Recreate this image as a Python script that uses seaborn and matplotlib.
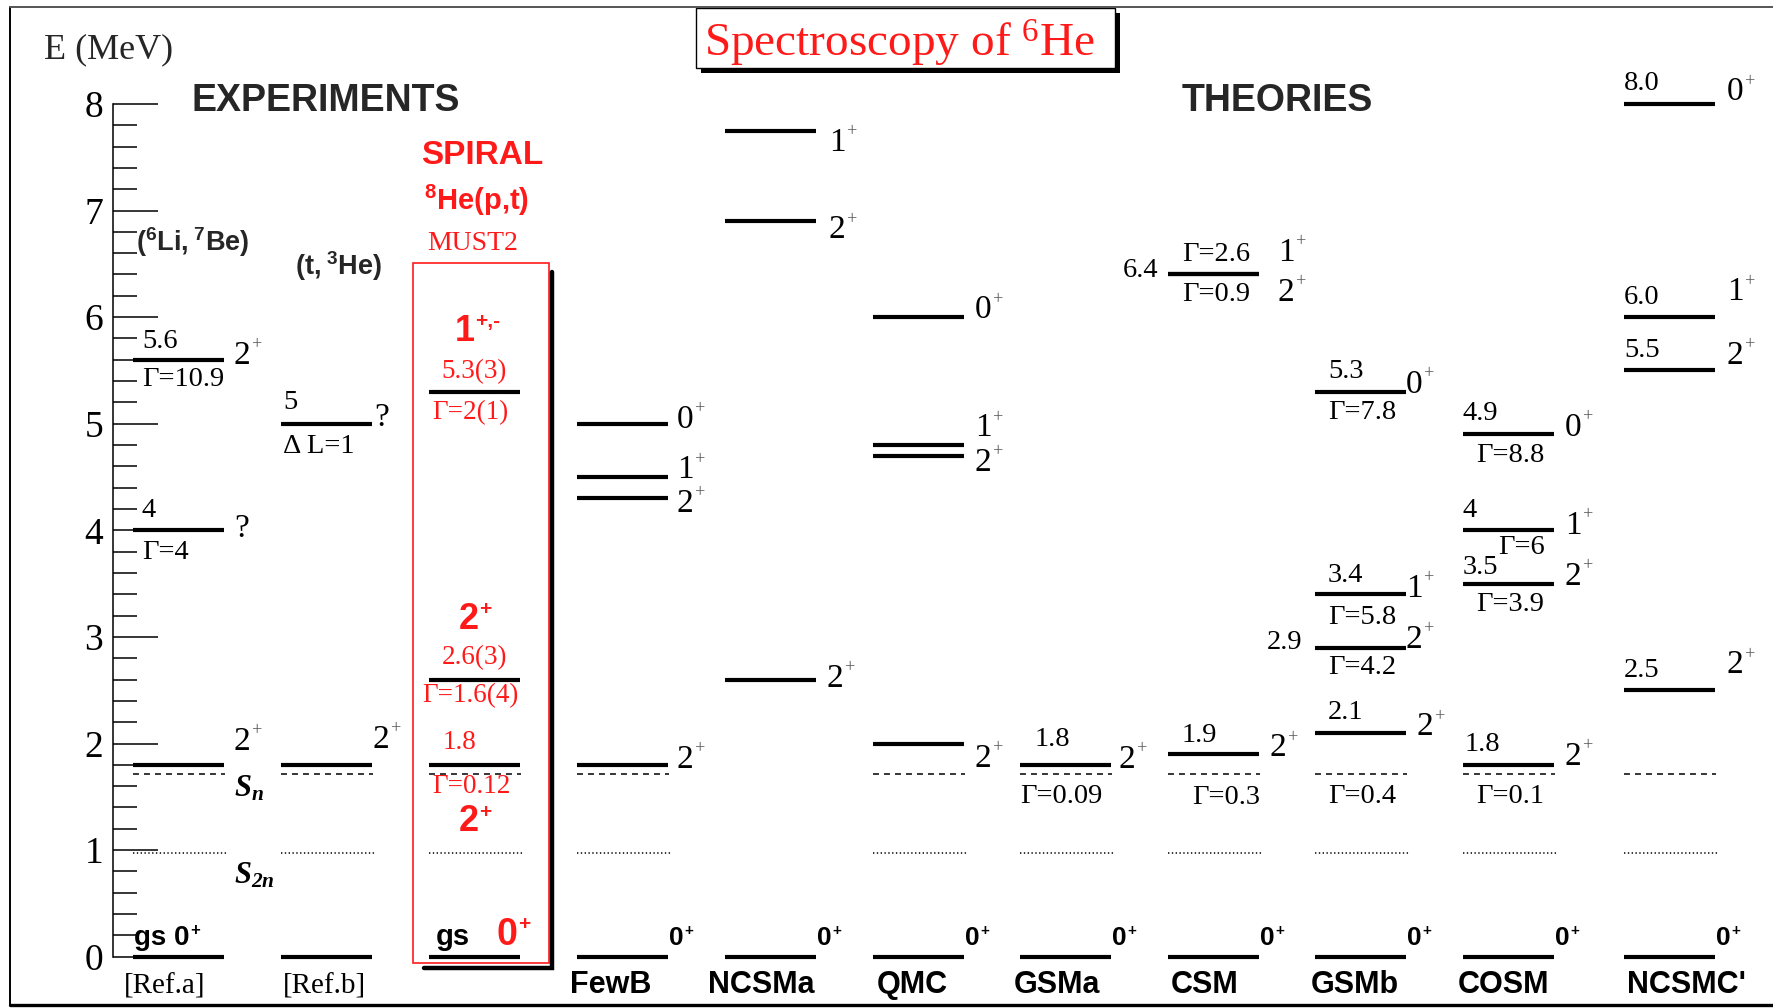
import matplotlib
matplotlib.use("Agg")
import matplotlib.pyplot as plt
from matplotlib.patches import Rectangle
from matplotlib.lines import Line2D
from matplotlib.ticker import FixedLocator
import pandas as pd
import seaborn as sns

# ---------------- level data (MeV) ----------------
col_names = ["[Ref.a]", "[Ref.b]", "", "FewB", "NCSMa", "QMC", "GSMa",
             "CSM", "GSMb", "COSM", "NCSMC'"]

ref_a_E = [0.0, 1.8, 4.0, 5.6]
ref_a_J = ["0", "2", "?", "2"]
ref_a_G = [None, None, "4", "10.9"]

ref_b_E = [0.0, 1.8, 5.0]
ref_b_J = ["0", "2", "?"]

spiral_E = [0.0, 1.8, 2.6, 5.3]
spiral_unc = [None, None, "3", "3"]
spiral_G = [None, "0.12", "1.6(4)", "2(1)"]
spiral_J = ["0", "2", "2", "1"]
spiral_P = ["+", "+", "+", "+,-"]

fewb_E = [0.0, 1.8, 4.3, 4.5, 5.0]
fewb_J = ["0", "2", "2", "1", "0"]

ncsma_E = [0.0, 2.6, 6.9, 7.75]
ncsma_J = ["0", "2", "2", "1"]

qmc_E = [0.0, 2.0, 4.7, 4.8, 6.0]
qmc_J = ["0", "2", "2", "1", "0"]

gsma_E = [0.0, 1.8]
gsma_J = ["0", "2"]
gsma_G = [None, "0.09"]

csm_E = [0.0, 1.9, 6.4, 6.4]
csm_J = ["0", "2", "2", "1"]
csm_G = [None, "0.3", "0.9", "2.6"]

gsmb_E = [0.0, 2.1, 2.9, 3.4, 5.3]
gsmb_J = ["0", "2", "2", "1", "0"]
gsmb_G = [None, "0.4", "4.2", "5.8", "7.8"]

cosm_E = [0.0, 1.8, 3.5, 4.0, 4.9]
cosm_J = ["0", "2", "2", "1", "0"]
cosm_G = [None, "0.1", "3.9", "6", "8.8"]

ncsmc_E = [0.0, 2.5, 5.5, 6.0, 8.0]
ncsmc_J = ["0", "2", "2", "1", "0"]

S_n = 1.71     # one-neutron threshold
S_2n = 0.975   # two-neutron threshold

all_E = [ref_a_E, ref_b_E, spiral_E, fewb_E, ncsma_E, qmc_E, gsma_E,
         csm_E, gsmb_E, cosm_E, ncsmc_E]

# ---------------- layout ----------------
W, H = 1774, 1008
Y0, PPM = 956.7, 106.6                # pixel row of E=0, pixels per MeV
col_left = [133, 281, 429, 577, 725, 873, 1020, 1168, 1315, 1463, 1624]
LW = 91                                # level length
name_x = [165, 324, None, 611, 761, 912, 1057, 1205, 1355, 1504, 1686]
threshold_cols = [0, 1, 2, 3, 5, 6, 7, 8, 9, 10]

sns.set_theme(style="white")
SERIF = ["Liberation Serif", "DejaVu Serif"]
SANS = ["Liberation Sans", "DejaVu Sans"]
plt.rcParams["font.family"] = SERIF
plt.rcParams["mathtext.default"] = "regular"

RED = "#ff1a1a"
PX = 0.72  # points per pixel at dpi 100
VAL = 20.5  # size of energy / width annotations
JPS = 24    # size of spin-parity labels

fig = plt.figure(figsize=(W / 100, H / 100), dpi=100)
fig.patch.set_facecolor("white")
ax = fig.add_axes([0, 0, 1, 1])
ax.set_facecolor("none")

# energy levels drawn as short horizontal segments
rows = []
for ci, Es in enumerate(all_E):
    for li, E in enumerate(Es):
        u = f"{ci}-{li}"
        rows.append({"unit": u, "x": col_left[ci], "E": E})
        rows.append({"unit": u, "x": col_left[ci] + LW, "E": E})
levels = pd.DataFrame(rows)
sns.lineplot(data=levels, x="x", y="E", units="unit", estimator=None,
             sort=False, color="black", linewidth=3.0, legend=False, ax=ax,
             solid_capstyle="butt")

# thresholds
for ci in threshold_cols:
    L = col_left[ci]
    ax.hlines(S_n, L, L + LW + 1, color="black", lw=1.1,
              linestyles=(0, (3.9, 3.3)))
    ax.hlines(S_2n, L, L + LW + 4, color="black", lw=1.1,
              linestyles=(0, (0.9, 1.6)))

ax.set_xlim(0, W)
ax.set_ylim((Y0 - H) / PPM, Y0 / PPM)
ax.set_xlabel("")
ax.set_ylabel("")
ax.set_xticks([])

# energy axis
for s in ["top", "right", "bottom"]:
    ax.spines[s].set_visible(False)
ax.spines["left"].set_position(("data", 113))
ax.spines["left"].set_bounds(0, 8)
ax.spines["left"].set_color("black")
ax.spines["left"].set_linewidth(1.1)
ax.yaxis.set_major_locator(FixedLocator(list(range(9))))
ax.yaxis.set_minor_locator(FixedLocator([i * 0.2 for i in range(41) if i % 5]))
ax.tick_params(axis="y", which="major", left=True, direction="in",
               length=45 * PX, width=1.1, color="black", labelcolor="black",
               labelsize=27, pad=7)
ax.tick_params(axis="y", which="minor", left=True, direction="in",
               length=24 * PX, width=1.1, color="black")
for t in ax.get_yticklabels():
    t.set_fontfamily(SERIF)


def put(x, E, s, dx=0, dy=0, ha="left", va="center", size=VAL,
        color="black", family=SERIF, weight="normal", style="normal"):
    return ax.annotate(s, xy=(x, E), xytext=(dx * PX, dy * PX),
                       textcoords="offset points", ha=ha, va=va,
                       fontsize=size, color=color, family=family,
                       fontweight=weight, fontstyle=style,
                       annotation_clip=False)


def sup(base, s, size, color="black", family=SERIF, weight="normal",
        dx=1, dy=0):
    # small raised text attached to the upper right of a base label
    return ax.annotate(s, xy=(1.0, 0.97), xycoords=base,
                       xytext=(dx, dy), textcoords="offset points",
                       ha="left", va="top", fontsize=size, color=color,
                       family=family, fontweight=weight,
                       annotation_clip=False)


def jlabel(ci, E, j, dx, dy, parity="+"):
    t = put(col_left[ci] + LW, E, j, dx=dx, dy=dy, size=JPS)
    if j != "?":
        sup(t, parity, JPS * 0.55, color="#555555", dx=0.5, dy=3.5)


def gs_label(ci, parity="+"):
    t = put(col_left[ci] + LW, 0.0, "0", dx=1, dy=12, va="baseline",
            family=SANS, weight="bold", size=19)
    sup(t, parity, 11, family=SANS, weight="bold", dx=0.5, dy=1.5)


# ---- [Ref.a] ----
c = 0
L = col_left[c]
put(L, ref_a_E[3], f"{ref_a_E[3]:g}", dx=9, dy=18)
put(L, ref_a_E[3], f"Γ={ref_a_G[3]}", dx=9, dy=-20)
jlabel(c, ref_a_E[3], ref_a_J[3], 10, 4)
put(L, ref_a_E[2], f"{ref_a_E[2]:g}", dx=9, dy=20)
put(L, ref_a_E[2], f"Γ={ref_a_G[2]}", dx=9, dy=-22)
jlabel(c, ref_a_E[2], ref_a_J[2], 10, 2)
jlabel(c, ref_a_E[1], ref_a_J[1], 10, 23)
t = put(L, 0.0, "gs 0", dx=1, dy=12, va="baseline", family=SANS,
        weight="bold", size=20)
sup(t, "+", 12, family=SANS, weight="bold", dx=0.5, dy=1.5)
put(L + LW, S_n, "$S_{n}$", dx=10, dy=-14, size=22, weight="bold",
    style="italic")
put(L + LW, S_2n, "$S_{2n}$", dx=10, dy=-23, size=22, weight="bold",
    style="italic")

# ---- [Ref.b] ----
c = 1
L = col_left[c]
put(L, ref_b_E[2], f"{ref_b_E[2]:g}", dx=2, dy=21)
put(L, ref_b_E[2], "Δ L=1", dx=2, dy=-23)
jlabel(c, ref_b_E[2], ref_b_J[2], 2, 6)
jlabel(c, ref_b_E[1], ref_b_J[1], 1, 25)

# ---- SPIRAL 8He(p,t) ----
c = 2
L = col_left[c]
C = L + LW / 2
RV = 19.5
for i, dyv, dyg in [(3, 20, -21), (2, 22, -16)]:
    put(C, spiral_E[i], f"{spiral_E[i]:g}({spiral_unc[i]})", dy=dyv,
        ha="center", color=RED, size=RV)
    put(C, spiral_E[i], f"Γ={spiral_G[i]}", dx=-4, dy=dyg, ha="center",
        color=RED, size=RV)
put(C, spiral_E[1], f"{spiral_E[1]:g}", dx=-15, dy=22, ha="center",
    color=RED, size=RV)
put(C, spiral_E[1], f"Γ={spiral_G[1]}", dx=-3, dy=-22, ha="center",
    color=RED, size=RV)
for i, dxj, dyj in [(3, -10, 60), (2, -6, 60), (1, -6, -57)]:
    t = put(C, spiral_E[i], spiral_J[i], dx=dxj, dy=dyj, ha="center",
            family=SANS, weight="bold", size=26, color=RED)
    sup(t, spiral_P[i], 15, color=RED, family=SANS, weight="bold",
        dx=0.5, dy=2)
put(L, 0.0, "gs", dx=7, dy=12, va="baseline", family=SANS, weight="bold",
    size=21)
t = put(L, 0.0, spiral_J[0], dx=68, dy=12, va="baseline", family=SANS,
        weight="bold", size=27, color=RED)
sup(t, spiral_P[0], 15, color=RED, family=SANS, weight="bold", dx=0.5, dy=2)
e = lambda ypix: (Y0 - ypix) / PPM
ax.add_patch(Rectangle((413, e(963)), 136, e(263) - e(963), fill=False,
                       edgecolor=RED, lw=1.2, clip_on=False))
ax.add_line(Line2D([552, 552, 424], [e(272), e(968), e(968)], color="black",
                   lw=3.2, solid_joinstyle="miter", clip_on=False))

# ---- FewB ----
c = 3
for E, j, dy in zip(fewb_E[1:], fewb_J[1:], [5, -5, 7, 4]):
    jlabel(c, E, j, 9, dy)
gs_label(c)

# ---- NCSMa ----
c = 4
for E, j, dy, dx in zip(ncsma_E[1:], ncsma_J[1:], [1, -9, -12], [11, 13, 13]):
    jlabel(c, E, j, dx, dy)
gs_label(c)

# ---- QMC ----
c = 5
for E, j, dy in zip(qmc_E[1:], qmc_J[1:], [-15, -7, 17, 7]):
    jlabel(c, E, j, 11, dy)
gs_label(c)

# ---- GSMa ----
c = 6
L = col_left[c]
put(L, gsma_E[1], f"{gsma_E[1]:g}", dx=15, dy=25)
put(L, gsma_E[1], f"Γ={gsma_G[1]}", dx=0, dy=-32)
jlabel(c, gsma_E[1], gsma_J[1], 8, 5)
gs_label(c)

# ---- CSM ----
c = 7
L = col_left[c]
put(L, csm_E[2], f"{csm_E[2]:g}", dx=-10, dy=4, ha="right")
put(L, csm_E[3], f"Γ={csm_G[3]}", dx=14, dy=20)
put(L, csm_E[2], f"Γ={csm_G[2]}", dx=14, dy=-20)
jlabel(c, csm_E[3], csm_J[3], 19, 22)
jlabel(c, csm_E[2], csm_J[2], 19, -18)
put(L, csm_E[1], f"{csm_E[1]:g}", dx=14, dy=19)
put(L, csm_E[1], f"Γ={csm_G[1]}", dx=24, dy=-43)
jlabel(c, csm_E[1], csm_J[1], 11, 6)
gs_label(c)

# ---- GSMb ----
c = 8
L = col_left[c]
val_dx = [None, 13, -13, 13, 13]
val_dy = [None, 20, 5, 19, 20]
g_dy = [None, -64, -20, -23, -21]
j_dx = [None, 11, 0, 0, 0]
j_dy = [None, 6, 8, 6, 7]
for i in range(1, len(gsmb_E)):
    E = gsmb_E[i]
    if val_dx[i] < 0:
        put(L, E, f"{E:g}", dx=val_dx[i], dy=val_dy[i], ha="right")
    else:
        put(L, E, f"{E:g}", dx=val_dx[i], dy=val_dy[i])
    put(L, E, f"Γ={gsmb_G[i]}", dx=13, dy=g_dy[i])
    jlabel(c, E, gsmb_J[i], j_dx[i], j_dy[i])
gs_label(c)

# ---- COSM ----
c = 9
L = col_left[c]
val_dx = [None, 2, 0, 0, 0]
val_dy = [None, 20, 16, 20, 21]
g_dx = [None, 13, 13, 35, 13]
g_dy = [None, -32, -21, -17, -21]
j_dy = [None, 8, 7, 5, 7]
for i in range(1, len(cosm_E)):
    E = cosm_E[i]
    put(L, E, f"{E:g}", dx=val_dx[i], dy=val_dy[i])
    put(L, E, f"Γ={cosm_G[i]}", dx=g_dx[i], dy=g_dy[i])
    jlabel(c, E, cosm_J[i], 11, j_dy[i])
gs_label(c)

# ---- NCSMC' ----
c = 10
L = col_left[c]
j_dy = [None, 25, 15, 25, 12]
for i in range(1, len(ncsmc_E)):
    E = ncsmc_E[i]
    put(L, E, f"{E:.1f}", dx=0, dy=20)
    jlabel(c, E, ncsmc_J[i], 12, j_dy[i])
gs_label(c)

# ---- column names ----
for ci, name in enumerate(col_names):
    if not name:
        continue
    if name.startswith("["):
        put(name_x[ci], 0.0, name, dy=-30, ha="center", size=21)
    else:
        put(name_x[ci], 0.0, name, dy=-28, ha="center", family=SANS,
            weight="bold", size=22)

# ---- headings ----
fx = lambda x: x / W
fy = lambda y: 1 - y / H
fig.text(fx(44), fy(50), "E (MeV)", ha="left", va="center", fontsize=26,
         family=SERIF)
fig.text(fx(326), fy(101), "EXPERIMENTS", ha="center", va="center",
         fontsize=27, family=SANS, fontweight="bold")
fig.text(fx(1277), fy(101), "THEORIES", ha="center", va="center",
         fontsize=27, family=SANS, fontweight="bold")
fig.text(fx(482), fy(155), "SPIRAL", ha="center", va="center", fontsize=24,
         family=SANS, fontweight="bold", color=RED)
fig.text(fx(477), fy(200), "${}^{8}$He(p,t)", ha="center", va="center",
         fontsize=21, family=SANS, fontweight="bold", color=RED)
fig.text(fx(473), fy(243), "MUST2", ha="center", va="center", fontsize=20,
         family=SERIF, color=RED)
fig.text(fx(136), fy(242), "$(^{6}Li,^{7}Be)$", ha="left", va="center",
         fontsize=19.5, family=SANS, fontweight="bold")
fig.text(fx(295), fy(266), "$(t,^{3}He)$", ha="left", va="center",
         fontsize=19.5, family=SANS, fontweight="bold")

# title box with drop shadow
fig.add_artist(Rectangle((fx(701), fy(73)), fx(1120) - fx(701),
                         fy(13) - fy(73), transform=fig.transFigure,
                         facecolor="black", edgecolor="none"))
fig.add_artist(Rectangle((fx(696), fy(68)), fx(1115) - fx(696),
                         fy(8) - fy(68), transform=fig.transFigure,
                         facecolor="white", edgecolor="black", lw=1.0))
fig.text(fx(900), fy(57), "Spectroscopy of ${}^{6}$He", ha="center",
         va="baseline", fontsize=34, family=SERIF, color=RED)

# outer frame
fig.add_artist(Line2D([fx(10), fx(10)], [fy(7), fy(1005)],
                      transform=fig.transFigure, color="black", lw=1.4))
fig.add_artist(Line2D([fx(10), fx(1774)], [fy(7), fy(7)],
                      transform=fig.transFigure, color="#555555", lw=1.4))
fig.add_artist(Line2D([fx(10), fx(1774)], [fy(1004.5), fy(1004.5)],
                      transform=fig.transFigure, color="black", lw=2.4))

fig.savefig("out.png", dpi=100)
